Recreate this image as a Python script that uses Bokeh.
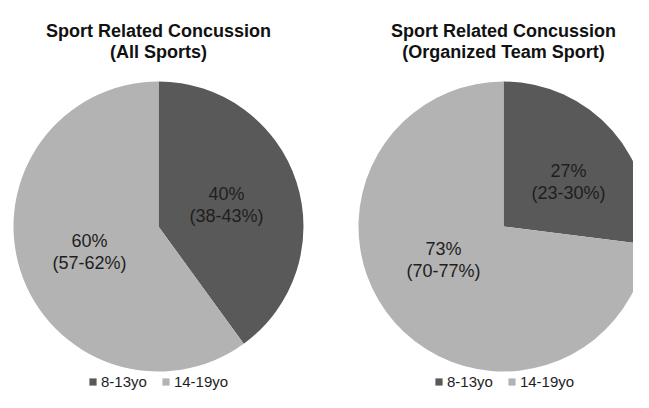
import numpy as np
from bokeh.plotting import figure
from bokeh.models import ColumnDataSource, Range1d, Legend, LegendItem
from bokeh.core.properties import value
from bokeh.embed import file_html
from bokeh.resources import INLINE

# ---------------- data ----------------
groups = ["8-13yo", "14-19yo"]
title_line1 = ["Sport Related Concussion", "Sport Related Concussion"]
title_line2 = ["(All Sports)", "(Organized Team Sport)"]
all_sports_pct = [40, 60]
all_sports_ci = ["(38-43%)", "(57-62%)"]
team_sport_pct = [27, 73]
team_sport_ci = ["(23-30%)", "(70-77%)"]

# ---------------- layout / style ----------------
W, H = 633, 392
FONT = "Liberation Sans"
COLORS = ["#595959", "#b3b3b3"]
TEXT_COLOR = "#1e1e1e"

def ry(img_y):
    return H - img_y

pie_cx = [158, 503]
pie_cy = 226
radius = 145
title_base = [30, 51]
pct_pos = [[(226, 193), (89, 240)], [(568, 170), (443, 248)]]
ci_gap = 22
legend_loc = [(88, 2), (434, 2)]

p = figure(width=W, height=H, output_backend="svg", toolbar_location=None,
           x_range=Range1d(0, W), y_range=Range1d(0, H),
           min_border=0, outline_line_color=None)
p.axis.visible = False
p.grid.visible = False

pies = [(all_sports_pct, all_sports_ci), (team_sport_pct, team_sport_ci)]
rows = dict(x=[], y=[], start=[], end=[], color=[])
lab = dict(x=[], y=[], t=[])
ci = dict(x=[], y=[], t=[])
for k, (pct, cis) in enumerate(pies):
    frac = np.array(pct, dtype=float) / np.sum(pct)
    cum = np.concatenate([[0.0], np.cumsum(frac)])
    for i in range(len(pct)):
        rows["x"].append(pie_cx[k])
        rows["y"].append(ry(pie_cy))
        rows["start"].append(np.pi / 2 - 2 * np.pi * cum[i])
        rows["end"].append(np.pi / 2 - 2 * np.pi * cum[i + 1])
        rows["color"].append(COLORS[i])
        lx, ly = pct_pos[k][i]
        lab["x"].append(lx); lab["y"].append(ry(ly)); lab["t"].append(f"{pct[i]}%")
        ci["x"].append(lx); ci["y"].append(ry(ly + ci_gap)); ci["t"].append(cis[i])

src = ColumnDataSource(rows)
r = p.wedge(x="x", y="y", radius=radius, start_angle="start", end_angle="end",
            direction="clock", fill_color="color", line_color=None, source=src)

for d in (lab, ci):
    p.text(x="x", y="y", text="t", source=ColumnDataSource(d),
           text_font=value(FONT), text_font_size="18px", text_color=TEXT_COLOR,
           text_align="center", text_baseline="alphabetic")

for k in range(2):
    for j, line in enumerate([title_line1[k], title_line2[k]]):
        p.text(x=[pie_cx[k]], y=[ry(title_base[j])], text=[line],
               text_font=value(FONT), text_font_size="18px", text_font_style="bold",
               text_color="#111111", text_align="center", text_baseline="alphabetic")

for k in range(2):
    items = [LegendItem(label=groups[i], renderers=[r], index=k * 2 + i) for i in range(2)]
    leg = Legend(items=items, orientation="horizontal", location=legend_loc[k],
                 glyph_width=9, glyph_height=9, label_standoff=4, spacing=14,
                 padding=0, margin=0, label_height=15, label_width=10,
                 label_text_font=FONT, label_text_font_size="15px", label_text_color="#1e1e1e",
                 background_fill_alpha=0, border_line_alpha=0)
    p.add_layout(leg, "center")

open("out.html", "w").write(file_html(p, INLINE))
